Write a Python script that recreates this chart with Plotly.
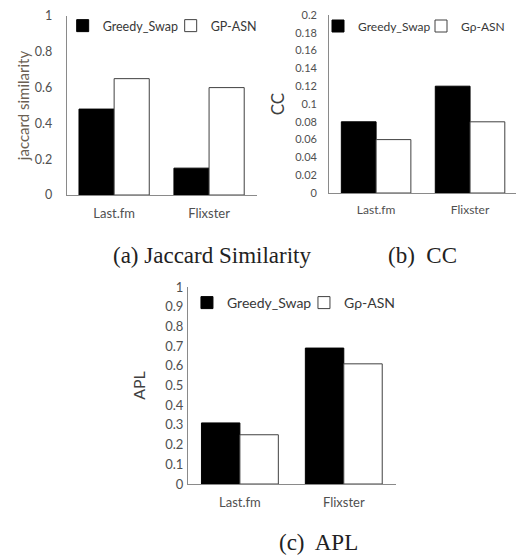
import plotly.graph_objects as go

categories = ["Last.fm", "Flixster"]

# (a) Jaccard similarity
jac_greedy = [0.48, 0.15]
jac_gp = [0.65, 0.60]
jac_ticks = [0, 0.2, 0.4, 0.6, 0.8, 1]
jac_ticktext = ["0", "0.2", "0.4", "0.6", "0.8", "1"]

# (b) CC
cc_greedy = [0.08, 0.12]
cc_gp = [0.06, 0.08]
cc_ticks = [0, 0.02, 0.04, 0.06, 0.08, 0.1, 0.12, 0.14, 0.16, 0.18, 0.2]
cc_ticktext = ["0", "0.02", "0.04", "0.06", "0.08", "0.1", "0.12", "0.14", "0.16", "0.18", "0.2"]

# (c) APL
apl_greedy = [0.31, 0.69]
apl_gp = [0.25, 0.61]
apl_ticks = [0, 0.1, 0.2, 0.3, 0.4, 0.5, 0.6, 0.7, 0.8, 0.9, 1]
apl_ticktext = ["0", "0.1", "0.2", "0.3", "0.4", "0.5", "0.6", "0.7", "0.8", "0.9", "1"]

names_a = ["Greedy_Swap", "GP-ASN"]
names_bc = ["Greedy_Swap", "G\u03c1-ASN"]
captions = ["(a) Jaccard Similarity", "(b)  CC", "(c)  APL"]
ytitles = ["jaccard similarity", "CC", "APL"]

# page body has an 8px margin; the figure is sized to fill the rest of the window
OFF = 8
W, H = 524 - OFF, 557 - OFF
FONT = "Lato, 'Open Sans', sans-serif"
SERIF = "'Liberation Serif', 'Times New Roman', serif"
AXCOL = "#8a8a8a"
TXT = "#505050"
LEGTXT = "#383838"

fig = go.Figure()

panels = [
    (jac_greedy, jac_gp, names_a, "x", "y", "legend"),
    (cc_greedy, cc_gp, names_bc, "x2", "y2", "legend2"),
    (apl_greedy, apl_gp, names_bc, "x3", "y3", "legend3"),
]
for g, p, names, xa, ya, lg in panels:
    fig.add_trace(go.Bar(x=categories, y=g, name=names[0], xaxis=xa, yaxis=ya,
                         marker=dict(color="#000000", line=dict(color="#000000", width=1)),
                         legend=lg))
    fig.add_trace(go.Bar(x=categories, y=p, name=names[1], xaxis=xa, yaxis=ya,
                         marker=dict(color="#ffffff", line=dict(color="#404040", width=1)),
                         legend=lg))


def px_x(v):
    return (v - OFF) / W


def px_y(v):
    return 1 - (v - OFF) / H


def xaxis(l, r, fs, anchor):
    return dict(domain=[px_x(l), px_x(r)], anchor=anchor, showline=True, linecolor=AXCOL,
                linewidth=1, showgrid=False, zeroline=False, ticks="", automargin=False,
                fixedrange=True, ticklabelstandoff=6, ticklabeloverflow="allow",
                tickfont=dict(family=FONT, size=fs, color=TXT))


def yaxis(t, b, anchor, rng, tv, tt, title, fs, tfs, tcol, standoff, lstand):
    return dict(domain=[px_y(b), px_y(t)], anchor=anchor, range=rng, showline=True,
                linecolor=AXCOL, linewidth=1, showgrid=False, zeroline=False, ticks="",
                tickvals=tv, ticktext=tt, tickfont=dict(family=FONT, size=tfs, color=TXT),
                ticklabelstandoff=lstand, automargin=False, ticklabeloverflow="allow",
                title=dict(text=title, font=dict(family=FONT, size=fs, color=tcol), standoff=standoff),
                fixedrange=True)


def legend(xpx, ypx, fs, ew):
    return dict(x=px_x(xpx), y=px_y(ypx), xanchor="left", yanchor="middle", orientation="h",
                font=dict(family=FONT, size=fs, color=LEGTXT), bgcolor="rgba(0,0,0,0)",
                itemwidth=30, entrywidth=ew, entrywidthmode="pixels", traceorder="normal",
                borderwidth=0)


fig.update_layout(
    template="none",
    width=W, height=H,
    margin=dict(l=0, r=0, t=0, b=0, pad=0),
    paper_bgcolor="white", plot_bgcolor="white",
    barmode="group", bargap=0.26, bargroupgap=0,
    showlegend=True,
    xaxis=xaxis(67, 258, 13, "y"),
    yaxis=yaxis(16, 195, "x", [0, 1], jac_ticks, jac_ticktext, ytitles[0], 15, 12.5, "#6b5f52", 1, 11),
    xaxis2=xaxis(331, 520, 12, "y2"),
    yaxis2=yaxis(15, 193, "x2", [0, 0.2], cc_ticks, cc_ticktext, ytitles[1], 17, 11, "#404040", 6, 9),
    xaxis3=xaxis(189, 398, 13, "y3"),
    yaxis3=yaxis(287, 484, "x3", [0, 1], apl_ticks, apl_ticktext, ytitles[2], 16, 13, "#404040", 15, 1),
    legend=legend(63, 26, 12.5, 63),
    legend2=legend(320, 26, 12, 58),
    legend3=legend(188, 303, 14, 72),
    annotations=[
        dict(text=captions[0], x=px_x(112), y=px_y(255), xref="paper", yref="paper",
             xanchor="left", yanchor="middle", showarrow=False,
             font=dict(family=SERIF, size=23, color="#222")),
        dict(text=captions[1], x=px_x(388), y=px_y(255), xref="paper", yref="paper",
             xanchor="left", yanchor="middle", showarrow=False,
             font=dict(family=SERIF, size=23, color="#222")),
        dict(text=captions[2], x=px_x(279), y=px_y(542), xref="paper", yref="paper",
             xanchor="left", yanchor="middle", showarrow=False,
             font=dict(family=SERIF, size=23, color="#222")),
    ],
)

fig.write_html("out.html")
